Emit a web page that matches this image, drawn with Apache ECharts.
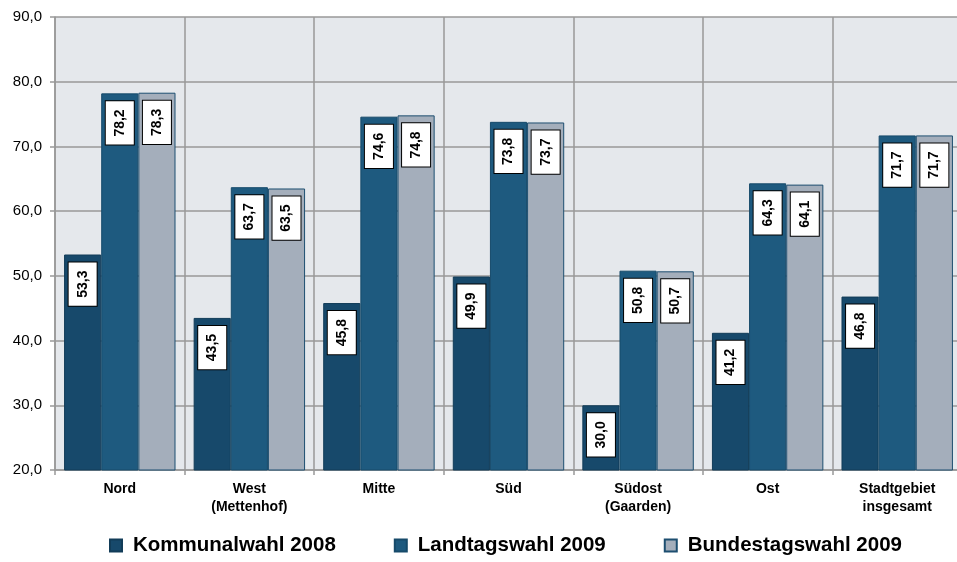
<!DOCTYPE html>
<html>
<head>
<meta charset="utf-8">
<script src="https://cdn.jsdelivr.net/npm/echarts@6/dist/echarts.min.js"></script>
<style>
html,body{margin:0;padding:0;overflow:hidden;background:#fff;}
#c{width:962px;height:562px;}
</style>
</head>
<body>
<div id="c"></div>
<script>
const categories = ['Nord', 'West\n(Mettenhof)', 'Mitte', 'Süd', 'Südost\n(Gaarden)', 'Ost', 'Stadtgebiet\ninsgesamt'];
const seriesNames = ['Kommunalwahl 2008', 'Landtagswahl 2009', 'Bundestagswahl 2009'];
const kommunal2008 = [53.3, 43.5, 45.8, 49.9, 30.0, 41.2, 46.8];
const landtag2009 = [78.2, 63.7, 74.6, 73.8, 50.8, 64.3, 71.7];
const bundestag2009 = [78.3, 63.5, 74.8, 73.7, 50.7, 64.1, 71.7];
const yTicks = [20, 30, 40, 50, 60, 70, 80, 90];

const colors = ['#17496b', '#1e5a7f', '#a4aebb'];
const borders = ['#123c58', '#164a6a', '#1d4e70'];
const font = '"Liberation Sans", Arial, sans-serif';
const fmt = v => v.toFixed(1).replace('.', ',');

function mk(i, data) {
  return {
    name: seriesNames[i],
    type: 'bar',
    data: data,
    barGap: '0%',
    barCategoryGap: '14%',
    itemStyle: { color: colors[i], borderColor: borders[i], borderWidth: 1 },
    label: {
      show: true,
      position: 'insideTop',
      distance: 8,
      rotate: 90,
      align: 'right',
      verticalAlign: 'middle',
      formatter: p => fmt(p.value),
      color: '#000',
      fontFamily: font,
      fontWeight: 'bold',
      fontSize: 14,
      lineHeight: 16,
      backgroundColor: '#fff',
      borderColor: '#000',
      borderWidth: 1,
      padding: [6, 8, 6, 8]
    }
  };
}

const chart = echarts.init(document.getElementById('c'));
chart.setOption({
  animation: false,
  textStyle: { fontFamily: font },
  grid: { left: 55, right: 0, top: 17, bottom: 92, show: true, backgroundColor: '#e5e8ec', borderWidth: 0 },
  legend: {
    left: 104, top: 530,
    itemWidth: 12, itemHeight: 12, itemGap: 58,
    icon: 'rect',
    textStyle: { fontFamily: font, fontWeight: 'bold', fontSize: 20.5, color: '#000', padding: [0, 0, 0, 6] },
    data: seriesNames
  },
  xAxis: {
    type: 'category',
    data: categories,
    axisLine: { show: true, lineStyle: { color: '#999', width: 1.5 } },
    axisTick: { show: true, length: 5, lineStyle: { color: '#999', width: 1.5 } },
    splitLine: { show: true, lineStyle: { color: '#999', width: 1.5 } },
    axisLabel: { color: '#000', fontWeight: 'bold', fontSize: 14, lineHeight: 18, margin: 10, fontFamily: font, interval: 0 }
  },
  yAxis: {
    type: 'value',
    min: yTicks[0], max: yTicks[yTicks.length - 1], interval: 10,
    axisLine: { show: true, lineStyle: { color: '#999', width: 1.5 } },
    axisTick: { show: true, length: 5, lineStyle: { color: '#999', width: 1.5 } },
    splitLine: { show: true, lineStyle: { color: '#999', width: 1.5 } },
    axisLabel: { color: '#000', fontSize: 15, margin: 13, fontFamily: font, formatter: v => fmt(v) }
  },
  series: [mk(0, kommunal2008), mk(1, landtag2009), mk(2, bundestag2009)]
});
</script>
</body>
</html>
